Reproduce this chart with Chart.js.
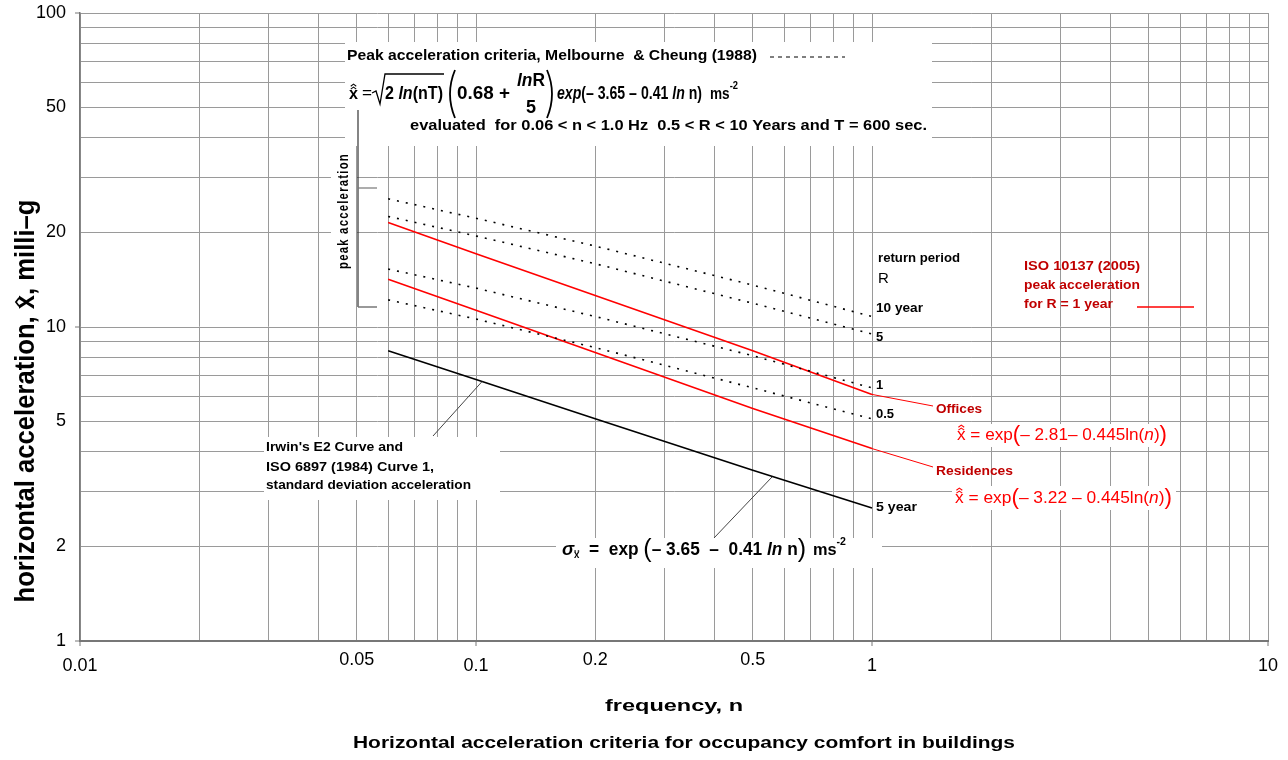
<!DOCTYPE html>
<html>
<head>
<meta charset="utf-8">
<script src="https://cdn.jsdelivr.net/npm/chart.js@4.4.0/dist/chart.umd.min.js"></script>
<style>
  html, body { margin: 0; padding: 0; background: #fff; }
  #wrap { width: 1288px; height: 760px; }
</style>
</head>
<body>
<div id="wrap"><canvas id="chart" width="1288" height="760"></canvas></div>
<script>
// ======== data (milli-g vs frequency n, Hz) ========
const freq = [0.06, 0.1, 0.2, 0.5, 1];

// Melbourne & Cheung (1988) peak acceleration, per return period R
const peakR10 = [25.6, 22.2, 18.1, 13.6, 10.8];
const peakR5  = [22.5, 19.5, 15.9, 11.9, 9.5];
const peakR1  = [15.3, 13.3, 10.8, 8.1, 6.4];
const peakR05 = [12.2, 10.6, 8.6, 6.4, 5.1];

// ISO 10137 (2005), R = 1 year
const isoOffices    = [21.5, 17.1, 12.6, 8.4, 6.1];
const isoResidences = [14.2, 11.3, 8.3, 5.5, 4.1];

// Irwin E2 / ISO 6897 curve 1 (standard deviation)
const irwinE2 = [8.4, 6.8, 5.1, 3.5, 2.65];

// axis labels
const xTickLabels = [0.01, 0.05, 0.1, 0.2, 0.5, 1, 10];
const xTickRaised = [0.05, 0.2, 0.5];
const yTickLabels = [1, 2, 5, 10, 20, 50, 100];

const SANS = "'Liberation Sans', Arial, sans-serif";
const INK = '#000';
const DARKRED = '#c00000';
const RED = '#ff0000';

// grid at every 1..9 x 10^k
function logGrid(min, max) {
  const out = [];
  for (let e = Math.round(Math.log10(min)); Math.pow(10, e) <= max; e++) {
    for (let s = 1; s <= 9; s++) {
      const v = +(s * Math.pow(10, e)).toPrecision(3);
      if (v >= min && v <= max) out.push(v);
    }
  }
  return out;
}

const pts = (ys) => freq.map((f, i) => ({ x: f, y: ys[i] }));

// ---- text helpers ----
// draws a row of runs, squeezed/stretched to `width` when given
function runLine(ctx, parts, x, y, width, align) {
  let nat = 0;
  const w = parts.map(p => { ctx.font = p.f; const m = ctx.measureText(p.t).width; nat += m; return m; });
  const sx = width ? width / nat : 1;
  let x0 = x;
  if (align === 'center') x0 = x - nat * sx / 2;
  else if (align === 'right') x0 = x - nat * sx;
  ctx.save();
  ctx.translate(x0, y);
  ctx.scale(sx, 1);
  ctx.textBaseline = 'middle';
  ctx.textAlign = 'left';
  let cx = 0;
  parts.forEach((p, i) => {
    const dy = p.dy || 0;
    ctx.font = p.f;
    ctx.fillStyle = p.c || INK;
    ctx.fillText(p.t, cx, dy);
    const size = parseFloat(p.f.match(/(\d+(\.\d+)?)px/)[1]);
    const mid = cx + w[i] / 2;
    const top = dy - 0.17 * size;
    ctx.strokeStyle = p.c || INK;
    ctx.lineWidth = Math.max(1, size / 16);
    for (let h = 0; h < (p.hat || 0); h++) {
      const hy = top - 2 - h * 0.17 * size;
      ctx.beginPath();
      ctx.moveTo(mid - 0.17 * size, hy);
      ctx.lineTo(mid, hy - 0.12 * size);
      ctx.lineTo(mid + 0.17 * size, hy);
      ctx.stroke();
    }
    if (p.dots) {
      ctx.fillStyle = p.c || INK;
      ctx.fillRect(mid - 0.25 * size, top - 3, 1.5, 1.5);
      ctx.fillRect(mid + 0.1 * size, top - 3, 1.5, 1.5);
    }
    cx += w[i];
  });
  ctx.restore();
}

function txt(ctx, t, x, y, font, color, width, align) {
  runLine(ctx, [{ t, f: font, c: color }], x, y, width, align);
}

function line(ctx, pts, color, lw, dash) {
  ctx.save();
  ctx.strokeStyle = color;
  ctx.lineWidth = lw;
  ctx.setLineDash(dash || []);
  ctx.beginPath();
  pts.forEach((p, i) => i ? ctx.lineTo(p[0], p[1]) : ctx.moveTo(p[0], p[1]));
  ctx.stroke();
  ctx.restore();
}

function paren(ctx, x0, x1, top, bottom, open) {
  ctx.save();
  ctx.strokeStyle = INK;
  ctx.lineWidth = 1.8;
  ctx.beginPath();
  const mid = (top + bottom) / 2;
  if (open) {
    ctx.moveTo(x1, top);
    ctx.quadraticCurveTo(x0 - 1, mid, x1, bottom);
  } else {
    ctx.moveTo(x0, top);
    ctx.quadraticCurveTo(x1 + 1, mid, x0, bottom);
  }
  ctx.stroke();
  ctx.restore();
}

function whiteBox(ctx, x0, y0, x1, y1) {
  ctx.save();
  ctx.fillStyle = '#fff';
  ctx.fillRect(x0, y0, x1 - x0, y1 - y0);
  ctx.restore();
}

// ---- plugin: white label boxes under datasets, then all annotation text ----
const annotations = {
  id: 'annotations',
  beforeDatasetsDraw(chart) {
    const ctx = chart.ctx;
    whiteBox(ctx, 345, 42, 932, 146);   // Melbourne & Cheung block
    whiteBox(ctx, 331, 146, 356, 277);  // "peak acceleration"
    whiteBox(ctx, 264, 437, 500, 500);  // Irwin block
    whiteBox(ctx, 556, 538, 882, 568);  // sigma formula
    whiteBox(ctx, 952, 424, 1170, 447); // offices formula
    whiteBox(ctx, 952, 486, 1176, 510); // residences formula
  },
  afterDraw(chart) {
    const ctx = chart.ctx;
    const xs = chart.scales.x, ys = chart.scales.y;
    const area = chart.chartArea;
    const px = (v) => xs.getPixelForValue(v);
    const py = (v) => ys.getPixelForValue(v);

    // tick labels
    xTickLabels.forEach(v => {
      const y = xTickRaised.includes(v) ? 660 : 666;
      txt(ctx, String(v), px(v), y, `18px ${SANS}`, INK, null, 'center');
    });
    yTickLabels.forEach(v => {
      txt(ctx, String(v), 66, py(v), `18px ${SANS}`, INK, null, 'right');
    });
    // small decade ticks
    [0.01, 0.1, 1, 10].forEach(v => line(ctx, [[px(v), area.bottom], [px(v), area.bottom + 5]], '#777', 1));
    [1, 10, 100].forEach(v => line(ctx, [[area.left - 5, py(v)], [area.left, py(v)]], '#777', 1));

    // axis titles + caption
    txt(ctx, 'frequency, n', (area.left + area.right) / 2, 706, `bold 17px ${SANS}`, INK, 138, 'center');
    txt(ctx, 'Horizontal acceleration criteria for occupancy comfort in buildings',
        (area.left + area.right) / 2 + 10, 743, `bold 17px ${SANS}`, INK, 662, 'center');
    ctx.save();
    ctx.translate(26, 401);
    ctx.rotate(-Math.PI / 2);
    runLine(ctx, [
      { t: 'horizontal acceleration, ', f: `bold 28px ${SANS}` },
      { t: 'x', f: `bold 28px ${SANS}`, hat: 1 },
      { t: ', milli\u2013g', f: `bold 28px ${SANS}` }
    ], 0, 0, 403, 'center');
    ctx.restore();

    // ---- Melbourne & Cheung block ----
    txt(ctx, 'Peak acceleration criteria, Melbourne  & Cheung (1988)', 347, 56, `bold 15px ${SANS}`, INK, 410);
    line(ctx, [[770, 57], [845, 57]], INK, 1, [4, 4]);

    const fy = 94;
    runLine(ctx, [{ t: 'x', f: `bold 17px ${SANS}`, hat: 2 }], 349, fy, 9);
    txt(ctx, '=', 362, fy, `16px ${SANS}`, INK, 10);
    line(ctx, [[372, 93], [376, 91], [380, 104], [385, 74], [444, 74]], INK, 1.3);
    runLine(ctx, [
      { t: '2 ', f: `bold 19px ${SANS}` },
      { t: 'ln', f: `italic bold 19px ${SANS}` },
      { t: '(nT)', f: `bold 19px ${SANS}` }
    ], 385, fy, 58);
    paren(ctx, 446, 455, 70, 118, true);
    txt(ctx, '0.68 +', 457, fy, `bold 19px ${SANS}`, INK, 53);
    runLine(ctx, [
      { t: 'ln', f: `italic bold 18px ${SANS}` },
      { t: 'R', f: `bold 18px ${SANS}` }
    ], 517, 81, 28);
    txt(ctx, '5', 531, 108, `bold 18px ${SANS}`, INK, null, 'center');
    paren(ctx, 547, 556, 70, 118, false);
    runLine(ctx, [
      { t: 'exp', f: `italic bold 19px ${SANS}` },
      { t: '(\u2013 3.65 \u2013 0.41 ', f: `bold 19px ${SANS}` },
      { t: 'ln', f: `italic bold 19px ${SANS}` },
      { t: ' n)', f: `bold 19px ${SANS}` }
    ], 557, fy, 145);
    runLine(ctx, [
      { t: 'ms', f: `bold 16px ${SANS}` },
      { t: '-2', f: `bold 11px ${SANS}`, dy: -9 }
    ], 710, fy + 1, 28);

    txt(ctx, 'evaluated  for 0.06 < n < 1.0 Hz  0.5 < R < 10 Years and T = 600 sec.', 410, 126,
        `bold 15px ${SANS}`, INK, 517);

    // ---- "peak acceleration" bracket ----
    line(ctx, [[358, 110], [358, 307]], '#333', 1.2);
    line(ctx, [[358, 188], [377, 188]], '#777', 1.2);
    line(ctx, [[358, 307], [377, 307]], '#777', 1.5);
    ctx.save();
    ctx.translate(344, 211);
    ctx.rotate(-Math.PI / 2);
    ctx.letterSpacing = '1.5px';
    txt(ctx, 'peak acceleration', 0, 0, `bold 14px ${SANS}`, INK, 116, 'center');
    ctx.letterSpacing = '0px';
    ctx.restore();

    // ---- return period labels ----
    const lx = px(1) + 4;
    txt(ctx, 'return period', 878, 258, `bold 13px ${SANS}`, INK, 82);
    txt(ctx, 'R', 878, 279, `15px ${SANS}`, INK);
    txt(ctx, '10 year', lx, 308, `bold 13px ${SANS}`, INK, 47);
    txt(ctx, '5', lx, 337, `bold 13px ${SANS}`, INK);
    txt(ctx, '1', lx, 385, `bold 13px ${SANS}`, INK);
    txt(ctx, '0.5', lx, 414, `bold 13px ${SANS}`, INK);
    txt(ctx, '5 year', lx, 507, `bold 13px ${SANS}`, INK, 41);

    // ---- ISO 10137 key ----
    txt(ctx, 'ISO 10137 (2005)', 1024, 266, `bold 13px ${SANS}`, DARKRED, 116);
    txt(ctx, 'peak acceleration', 1024, 285, `bold 13px ${SANS}`, DARKRED, 116);
    txt(ctx, 'for R = 1 year', 1024, 304, `bold 13px ${SANS}`, DARKRED, 89);
    line(ctx, [[1137, 307], [1194, 307]], RED, 1.5);

    // ---- offices / residences leaders ----
    const last = freq.length - 1;
    line(ctx, [[px(freq[last]), py(isoOffices[last])], [933, 406]], RED, 1);
    line(ctx, [[px(freq[last]), py(isoResidences[last])], [933, 467]], RED, 1);
    txt(ctx, 'Offices', 936, 409, `bold 13px ${SANS}`, DARKRED, 46);
    txt(ctx, 'Residences', 936, 471, `bold 13px ${SANS}`, DARKRED, 77);

    const redFormula = (a, y, x0, w) => runLine(ctx, [
      { t: 'x', f: `17px ${SANS}`, c: RED, hat: 2 },
      { t: ' = exp', f: `17px ${SANS}`, c: RED },
      { t: '(', f: `22px ${SANS}`, c: RED },
      { t: '\u2013 ' + a + '0.445ln(', f: `17px ${SANS}`, c: RED },
      { t: 'n', f: `italic 17px ${SANS}`, c: RED },
      { t: ')', f: `17px ${SANS}`, c: RED },
      { t: ')', f: `22px ${SANS}`, c: RED }
    ], x0, y, w);
    redFormula('2.81\u2013 ', 435, 957, 210);
    redFormula('3.22 \u2013 ', 498, 955, 217);

    // ---- Irwin block ----
    txt(ctx, "Irwin's E2 Curve and", 266, 447, `bold 13px ${SANS}`, INK, 137);
    txt(ctx, 'ISO 6897 (1984) Curve 1,', 266, 467, `bold 13px ${SANS}`, INK, 168);
    txt(ctx, 'standard deviation acceleration', 266, 485, `bold 13px ${SANS}`, INK, 205);
    line(ctx, [[433, 436], [px(freq[1]) + 6, py(irwinE2[1]) + 2]], '#444', 1);

    // sigma formula
    line(ctx, [[714, 538], [772, 477]], '#444', 1);
    runLine(ctx, [
      { t: '\u03c3', f: `italic bold 19px ${SANS}` },
      { t: 'x', f: `bold 10px ${SANS}`, dy: 5, dots: true },
      { t: '  =  exp ', f: `bold 18px ${SANS}` },
      { t: '(', f: `26px ${SANS}` },
      { t: '\u2013 3.65  \u2013  0.41 ', f: `bold 18px ${SANS}` },
      { t: 'ln', f: `italic bold 18px ${SANS}` },
      { t: ' n', f: `bold 18px ${SANS}` },
      { t: ') ', f: `26px ${SANS}` },
      { t: 'ms', f: `bold 17px ${SANS}` },
      { t: '-2', f: `bold 11px ${SANS}`, dy: -8 }
    ], 562, 550, 284);
  }
};

const dotted = (data) => ({
  data: pts(data), borderColor: INK, borderWidth: 1.6, borderDash: [2, 7],
  pointRadius: 0, fill: false, tension: 0
});
const solid = (data, color) => ({
  data: pts(data), borderColor: color, borderWidth: 1.6,
  pointRadius: 0, fill: false, tension: 0
});

const xGrid = logGrid(0.01, 10);
const yGrid = logGrid(1, 100);

new Chart(document.getElementById('chart'), {
  type: 'line',
  data: {
    datasets: [
      dotted(peakR10), dotted(peakR5), dotted(peakR1), dotted(peakR05),
      solid(isoOffices, RED), solid(isoResidences, RED),
      solid(irwinE2, INK)
    ]
  },
  options: {
    responsive: false,
    animation: false,
    layout: { padding: { left: 80, right: 20, top: 13, bottom: 119 } },
    plugins: { legend: { display: false }, tooltip: { enabled: false } },
    scales: {
      x: {
        type: 'logarithmic', min: 0.01, max: 10,
        afterBuildTicks: (s) => { s.ticks = xGrid.map(v => ({ value: v })); },
        ticks: { display: false },
        grid: { color: '#9a9a9a', lineWidth: 1, drawTicks: false },
        border: { color: '#777', width: 2 }
      },
      y: {
        type: 'logarithmic', min: 1, max: 100,
        afterBuildTicks: (s) => { s.ticks = yGrid.map(v => ({ value: v })); },
        ticks: { display: false },
        grid: { color: '#9a9a9a', lineWidth: 1, drawTicks: false },
        border: { color: '#777', width: 1.5 }
      }
    }
  },
  plugins: [annotations]
});
</script>
</body>
</html>
